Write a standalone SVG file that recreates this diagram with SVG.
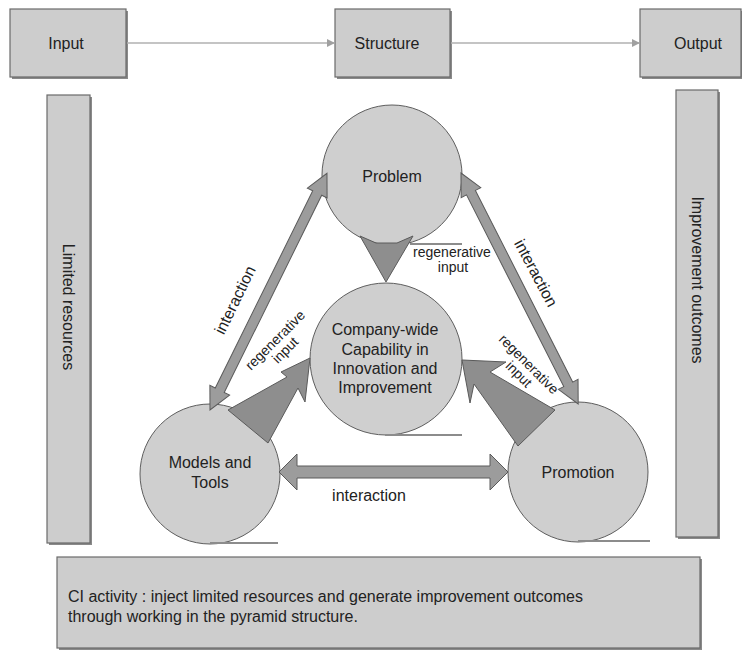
<svg xmlns="http://www.w3.org/2000/svg" width="742" height="650" viewBox="0 0 742 650">
  <style>
    text { font-family: "Liberation Sans", Arial, sans-serif; fill: #222; }
    .lbl { font-size: 16px; text-anchor: middle; }
    .small { font-size: 14px; text-anchor: middle; }
    .box { fill: #cdcdcd; stroke: #6a6a6a; stroke-width: 1.2; }
    .shadow { fill: #8a8a8a; }
    .node { fill: #cfcfcf; stroke: #5e5e5e; stroke-width: 1; }
    .base { stroke: #8c8c8c; stroke-width: 2; fill: none; }
    .flow { stroke: #b0b0b0; stroke-width: 1.5; fill: none; marker-end: url(#tri); }
    .regen { fill: #8e8e8e; stroke: #5a5a5a; stroke-width: 1; stroke-linejoin: miter; }
    .inter { fill: #9c9c9c; stroke: #5a5a5a; stroke-width: 1; }
  </style>
  <defs>
    <marker id="tri" markerWidth="8" markerHeight="8" refX="7" refY="4" orient="auto" markerUnits="userSpaceOnUse">
      <path d="M0,0 L8,4 L0,8 Z" fill="#a0a0a0"/>
    </marker>
  </defs>
  <rect width="742" height="650" fill="#ffffff"/>

  <!-- top row: input / structure / output -->
  <g id="input">
    <rect class="shadow" x="12" y="11" width="116" height="68"/>
    <rect class="box" x="10" y="9" width="116" height="68"/>
    <text class="lbl" x="66" y="49">Input</text>
  </g>
  <g id="structure">
    <rect class="shadow" x="337" y="11" width="115" height="68"/>
    <rect class="box" x="335" y="9" width="115" height="68"/>
    <text class="lbl" x="387" y="49">Structure</text>
  </g>
  <g id="output">
    <rect class="shadow" x="642" y="11" width="102" height="68"/>
    <rect class="box" x="640" y="9" width="101" height="68"/>
    <text class="lbl" x="698" y="49">Output</text>
  </g>

  <!-- side bars -->
  <g id="limited-resources">
    <rect class="shadow" x="49" y="97" width="43" height="448"/>
    <rect class="box" x="47" y="95" width="43" height="448"/>
    <text class="lbl" transform="translate(68,307) rotate(90)" dominant-baseline="central">Limited resources</text>
  </g>
  <g id="improvement-outcomes">
    <rect class="shadow" x="678" y="92" width="42" height="447"/>
    <rect class="box" x="676" y="90" width="42" height="447"/>
    <text class="lbl" transform="translate(697,280) rotate(90)" dominant-baseline="central">Improvement outcomes</text>
  </g>

  <!-- circles -->
  <g id="problem">
    <circle class="node" cx="392" cy="175" r="70"/>
    <line class="base" x1="410" y1="244" x2="462" y2="244"/>
    <text class="lbl" x="392" y="182">Problem</text>
  </g>
  <g id="capability">
    <circle class="node" cx="386" cy="359" r="76"/>
    <line class="base" x1="385" y1="435" x2="462" y2="435"/>
    <text class="lbl" x="385" y="335">Company-wide</text>
    <text class="lbl" x="385" y="355">Capability in</text>
    <text class="lbl" x="385" y="374">Innovation and</text>
    <text class="lbl" x="385" y="393">Improvement</text>
  </g>
  <g id="models-tools">
    <circle class="node" cx="210" cy="474" r="70"/>
    <line class="base" x1="210" y1="543" x2="278" y2="543"/>
    <text class="lbl" x="210" y="468">Models and</text>
    <text class="lbl" x="210" y="488">Tools</text>
  </g>
  <g id="promotion">
    <circle class="node" cx="578" cy="472" r="70"/>
    <line class="base" x1="578" y1="541" x2="650" y2="541"/>
    <text class="lbl" x="578" y="478">Promotion</text>
  </g>

  <!-- connectors -->
  <g id="connectors">
    <line class="flow" x1="127" y1="43" x2="334" y2="43"/>
    <line class="flow" x1="451" y1="43" x2="639" y2="43"/>

    <!-- regenerative input arrows -->
    <polygon class="regen" points="376,243 360,236 386,282 413,236 397,243"/>
    <polygon class="regen" points="310,358 281,372 287,377 228,410 268,443 298,388 305,402"/>
    <polygon class="regen" points="462,360 506,362 490,372 555,410 518,446 474,384 470,403"/>

    <!-- interaction arrows -->
    <polygon class="inter" transform="translate(210,410) rotate(-63.7)" points="0,0 22,-11 22,-5 242,-5 242,-11 264,0 242,11 242,5 22,5 22,11"/>
    <polygon class="inter" transform="translate(461,173) rotate(63.1)" points="0,0 22,-11 22,-5 237,-5 237,-11 259,0 237,11 237,5 22,5 22,11"/>
    <polygon class="inter" points="279,472 297,454 297,466 490,466 490,454 508,472 490,490 490,478 297,478 297,490"/>

    <text class="lbl" transform="translate(235,300) rotate(-64)" dominant-baseline="central">interaction</text>
    <text class="lbl" transform="translate(536,273) rotate(62)" dominant-baseline="central">interaction</text>
    <text class="lbl" x="369" y="501">interaction</text>

    <text class="small" x="452" y="257">regenerative</text>
    <text class="small" x="453" y="272">input</text>
    <text class="small" transform="translate(275,340) rotate(-45)"><tspan x="0" y="5">regenerative</tspan><tspan x="0" y="19">input</tspan></text>
    <text class="small" transform="translate(529,364) rotate(45)"><tspan x="0" y="5">regenerative</tspan><tspan x="0" y="19">input</tspan></text>
  </g>

  <!-- summary panel -->
  <g id="summary">
    <rect class="shadow" x="59" y="559" width="643" height="91"/>
    <rect class="box" x="57" y="557" width="643" height="91"/>
    <text x="68" y="602" font-size="16">CI activity : inject limited resources and generate improvement outcomes</text>
    <text x="68" y="622" font-size="16">through working in the pyramid structure.</text>
  </g>
</svg>
